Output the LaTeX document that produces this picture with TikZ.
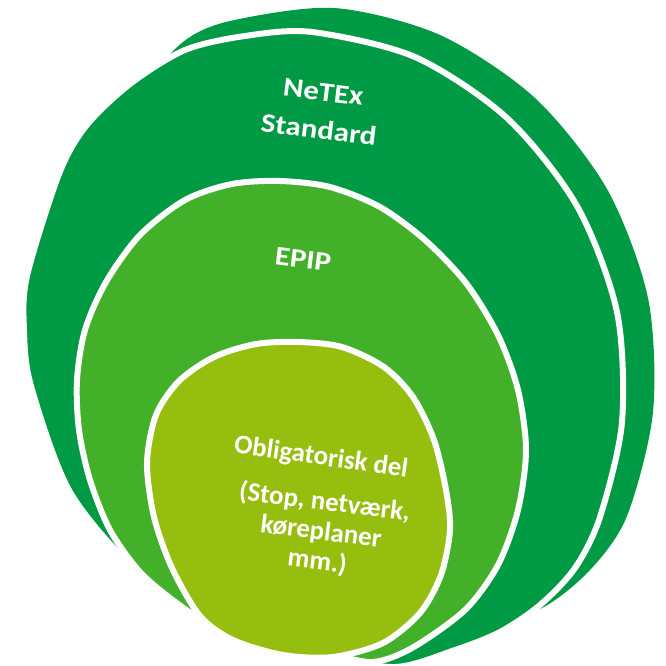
\documentclass[tikz,border=0pt]{standalone}
\usepackage{fontspec}
\setmainfont{Carlito}
\definecolor{netexgreen}{RGB}{0,154,68}
\definecolor{epipgreen}{RGB}{67,176,42}
\definecolor{obliggreen}{RGB}{150,190,14}
\begin{document}
\begin{tikzpicture}[x=1bp, y=-1bp,
    ringfill/.style={fill=#1, draw=white, line width=6bp, line join=round},
    ringtext/.style={text=white, font=\bfseries\fontsize{27}{30}\selectfont, align=center, inner sep=0pt, rotate=-7}]
  \useasboundingbox (0,0) rectangle (666,666);
  \clip (0,0) rectangle (666,666);

  \fill[netexgreen] plot[smooth cycle] coordinates {(183,42) (230,21) (334,8) (440,35) (535,98) (607,189) (648,298) (653,412) (627,516) (590,570) (540,609) (470,628) (330,605) (170,510) (100,360) (105,200) (150,85)};

  \draw[ringfill=netexgreen] plot[smooth cycle] coordinates {(577,206) (507,118) (415,57) (312,32) (245,36) (185,50) (130,84) (86,126) (59,174) (27,276) (24,330) (31,386) (70,492) (140,574) (228,630) (320,654) (395,667) (455,650) (500,632) (540,605) (575,568) (600,517) (622,422) (617,312)};

  \draw[ringfill=epipgreen] plot[smooth cycle] coordinates {(280,181) (330,187) (380,207) (425,240) (466,283) (498,335) (518,390) (526,450) (518,510) (498,565) (465,610) (412,648) (373,662) (330,654) (280,645) (220,630) (178,604) (140,572) (110,530) (90,480) (79,430) (77,380) (85,330) (106,282) (140,235) (185,200) (232,184)};

  \draw[ringfill=obliggreen] plot[smooth cycle] coordinates {(256,344) (299,342) (342,347) (384,367) (413,397) (434,440) (446,490) (450,530) (441,575) (420,613) (383,643) (333,657) (283,655) (233,640) (200,616) (172,568) (154,517) (147,463) (156,415) (179,381) (214,357)};

  \node[ringtext, xscale=1.15, font=\bfseries\fontsize{27}{38}\selectfont] (netex) at (321,111) {NeTEx\\Standard};
  \node[ringtext, xscale=1.15, anchor=base] (epip) at (302,268) {EPIP};
  \node[ringtext, rotate=-1, anchor=base] (oblig) at (320,465) {Obligatorisk del};
  \node[ringtext] (detail) at (321,532) {(Stop, netværk,\\køreplaner\\mm.)};
\end{tikzpicture}
\end{document}
